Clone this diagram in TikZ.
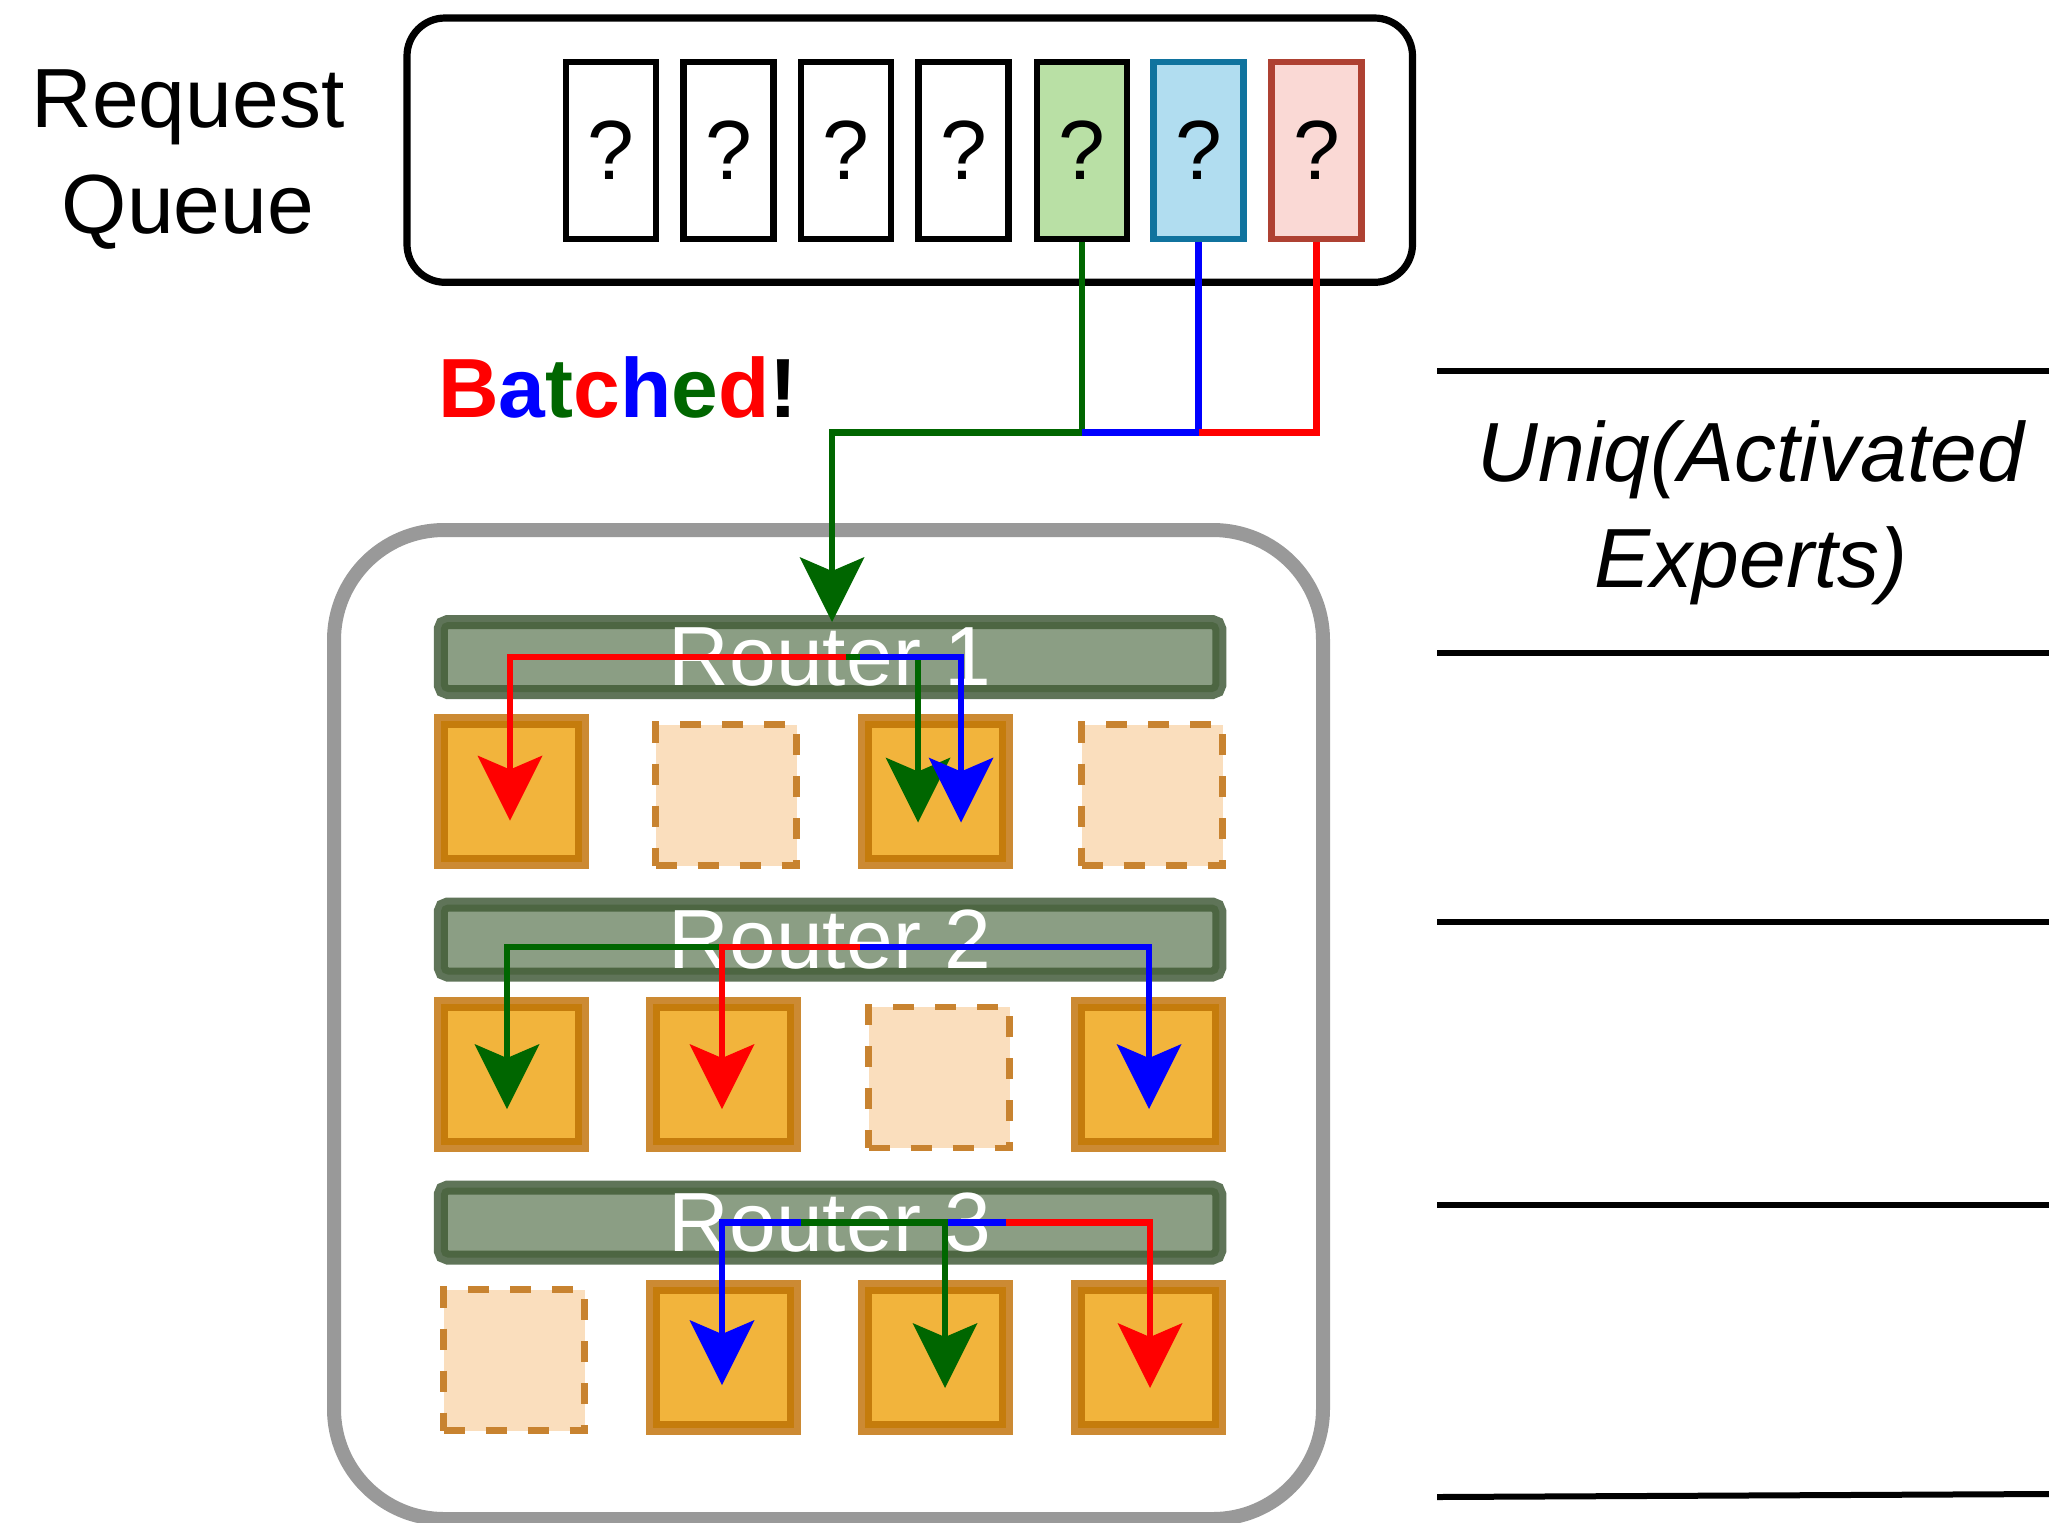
\documentclass[tikz,border=0pt]{standalone}
\usepackage{fontspec}
\setmainfont{Liberation Sans}
\usetikzlibrary{arrows.meta,calc}

\definecolor{wgreen}{HTML}{006600}
\definecolor{wblue}{HTML}{0000FF}
\definecolor{wred}{HTML}{FF0000}
\definecolor{qgreen}{HTML}{B9E0A5}
\definecolor{qblue}{HTML}{B1DDF0}
\definecolor{qbluedraw}{HTML}{10739E}
\definecolor{qred}{HTML}{FAD9D5}
\definecolor{qreddraw}{HTML}{AE4132}
\definecolor{rfill}{HTML}{8B9E84}
\definecolor{rring}{HTML}{4D6642}
\definecolor{rhalo}{HTML}{5F7458}
\definecolor{efill}{HTML}{F2B43C}
\definecolor{ering}{HTML}{C57C0C}
\definecolor{ehalo}{HTML}{CC8A33}
\definecolor{ifill}{HTML}{FADEBD}
\definecolor{idraw}{HTML}{C88330}
\definecolor{frame}{HTML}{999999}

\tikzset{
  bigfont/.style={font=\fontsize{42pt}{53pt}\selectfont},
  queuebox/.style={draw=black, line width=3.6pt, rounded corners=19pt,
    minimum width=502.75pt, minimum height=132.15pt, inner sep=0pt, fill=white},
  qitem/.style={draw=black, line width=3.35pt, fill=white, bigfont,
    minimum width=45pt, minimum height=88.5pt, inner sep=0pt},
  layerbox/.style={draw=frame, line width=7pt, rounded corners=55pt, fill=white},
  router/.style={draw=rring, line width=3.5pt, fill=rfill, rounded corners=2pt,
    preaction={draw=rhalo, line width=10.5pt},
    minimum width=385.75pt, minimum height=31.5pt, inner sep=0pt,
    text=white, bigfont},
  expert/.style={draw=ering, line width=3.5pt, fill=efill,
    preaction={draw=ehalo, line width=10.5pt},
    minimum width=67pt, minimum height=67pt, inner sep=0pt},
  idle/.style={draw=idraw, line width=3.35pt, fill=ifill,
    dash pattern=on 10.5pt off 10.5pt,
    minimum width=70.5pt, minimum height=70.5pt, inner sep=0pt},
  wire/.style={line width=3.25pt},
  arr/.style={wire, -{Stealth[length=32.5pt,width=32.5pt,inset=7pt,line width=0pt]}},
  rule/.style={draw=black, line width=3pt},
}

\begin{document}
\begin{tikzpicture}[x=0.5pt,y=-0.5pt]
\useasboundingbox (0,0) rectangle (2049,1522);

% request queue
\node[bigfont, anchor=base] (reqa) at (188,127) {Request};
\node[bigfont, anchor=base] (reqb) at (188,233) {Queue};
\node[queuebox] (queue) at (909.75,150.15) {};
\node[qitem] (q1) at (611,150.5) {?};
\node[qitem] (q2) at (728.5,150.5) {?};
\node[qitem] (q3) at (846,150.5) {?};
\node[qitem] (q4) at (963.5,150.5) {?};
\node[qitem, fill=qgreen] (q5) at (1082,150.5) {?};
\node[qitem, fill=qblue, draw=qbluedraw] (q6) at (1198.5,150.5) {?};
\node[qitem, fill=qred, draw=qreddraw] (q7) at (1316.5,150.5) {?};

\node[font=\fontsize{42pt}{53pt}\selectfont\bfseries, anchor=base west] (batched) at (431,417)
  {\textcolor{wred}{B}\textcolor{wblue}{a}\textcolor{wgreen}{t}\textcolor{wred}{c}\textcolor{wblue}{h}\textcolor{wgreen}{e}\textcolor{wred}{d}!};

% MoE layer with three routers
\draw[layerbox] (334,530) rectangle (1323,1519);

\node[router] (r1) at (830,657) {Router 1};
\node[router] (r2) at (830,939.5) {Router 2};
\node[router] (r3) at (830,1222.5) {Router 3};

\node[expert] (e11) at (511,791.5) {};
\node[idle]   (e12) at (726,795) {};
\node[expert] (e13) at (935,791.5) {};
\node[idle]   (e14) at (1152,795) {};

\node[expert] (e21) at (511,1074.5) {};
\node[expert] (e22) at (723,1074.5) {};
\node[idle]   (e23) at (939,1077.5) {};
\node[expert] (e24) at (1148,1074.5) {};

\node[idle]   (e31) at (514,1360) {};
\node[expert] (e32) at (723,1357) {};
\node[expert] (e33) at (935,1357) {};
\node[expert] (e34) at (1148,1357) {};

% batching of the three requests
\coordinate (join) at (832,432.5);
\draw[arr, wgreen] (q5.south) |- (join) -- (join |- r1.north);
\draw[wire, wblue] (q6.south) |- (q5.south |- join);
\draw[wire, wred] (q7.south) |- (q6.south |- join);

% routing, layer 1
\draw[arr, wred]   ($(r1.center)+(16,0)$) -| ($(e11.center)+(-1,29)$);
\draw[arr, wgreen] ($(r1.center)+(16,0)$) -| ($(e13.center)+(-17,31)$);
\draw[arr, wblue]  ($(r1.center)+(30,0)$) -| ($(e13.center)+(26,31)$);

% routing, layer 2
\draw[arr, wgreen] ($(r2.center)+(30,7.5)$) -| ($(e21.center)+(-4,34.5)$);
\draw[arr, wred]   ($(r2.center)+(30,7.5)$) -| ($(e22.center)+(-1,34.5)$);
\draw[arr, wblue]  ($(r2.center)+(30,7.5)$) -| ($(e24.center)+(1,34.5)$);

% routing, layer 3
\draw[arr, wblue]  ($(r3.center)+(176,0)$) -| ($(e32.center)+(-1,28)$);
\draw[arr, wgreen] ($(r3.center)+(-29,0)$) -| ($(e33.center)+(10,31)$);
\draw[arr, wred]   ($(r3.center)+(176,0)$) -| ($(e34.center)+(2,31)$);

% table on the right
\draw[rule] (1437,371) -- (2049,371);
\draw[rule] (1437,653) -- (2049,653);
\draw[rule] (1437,922) -- (2049,922);
\draw[rule] (1437,1205) -- (2049,1205);
\draw[rule] (1437,1497) -- (2049,1494);
\node[font=\fontsize{42pt}{53pt}\selectfont\itshape, anchor=base] (uniqa) at (1751,481) {Uniq(Activated};
\node[font=\fontsize{42pt}{53pt}\selectfont\itshape, anchor=base] (uniqb) at (1751,587) {Experts)};
\end{tikzpicture}
\end{document}
